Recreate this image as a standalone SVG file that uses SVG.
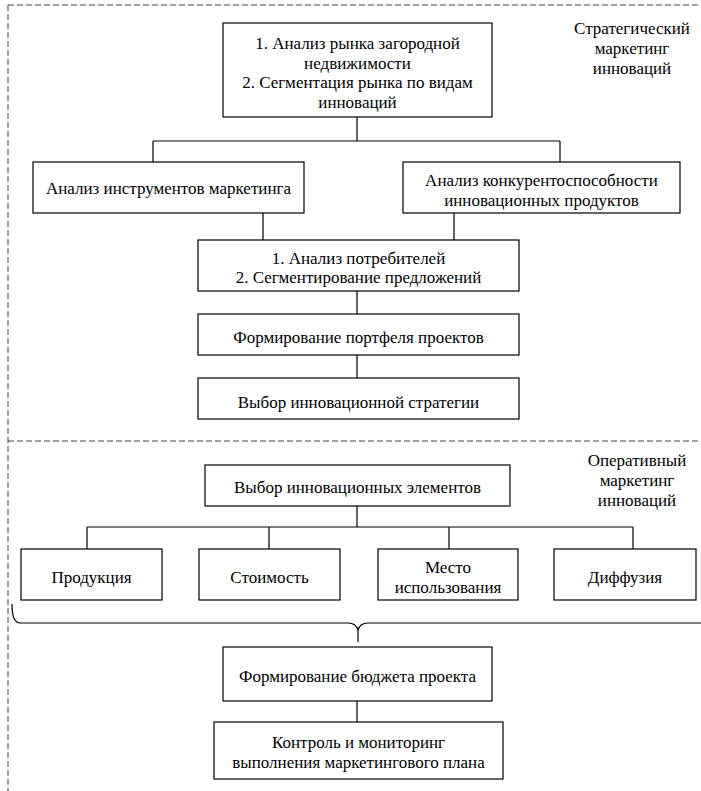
<svg xmlns="http://www.w3.org/2000/svg" width="701" height="791" viewBox="0 0 701 791">
<style>
.box{fill:#fff;stroke:#000;stroke-width:1.2}
.ln{fill:none;stroke:#000;stroke-width:1.2}
.dash{fill:none;stroke:#444;stroke-width:1;stroke-dasharray:6,3}
text{font-family:'Liberation Serif','Times New Roman',Times,serif;font-size:17px;fill:#000;text-anchor:middle}
</style>
<rect width="701" height="791" fill="#fff"/>
<g id="frame">
<path class="dash" d="M8,5 H701 M8,5 V791 M8,441 H701"/>
</g>
<g id="connectors">
<path class="ln" d="M357,117 V141 M153,141 H560 M153,141 V162 M560,141 V162"/>
<path class="ln" d="M263,213 V240 M454,213 V240"/>
<path class="ln" d="M357,291 V314 M357,355 V378"/>
<path class="ln" d="M357,506 V527 M87,527 H633 M87,527 V549 M269,527 V549 M449,527 V549 M633,527 V549"/>
<path class="ln" d="M12,604 Q12,623 20,623 H348 Q356,623 358,630 Q360,623 368,623 H701 M358,630 V642"/>
<path class="ln" d="M357,701 V722"/>
</g>
<g id="label-strategic" font-family="Liberation Serif, serif">
<text x="632" y="34">Стратегический</text>
<text x="632" y="54">маркетинг</text>
<text x="632" y="74">инноваций</text>
</g>
<g id="label-operative">
<text x="637" y="466">Оперативный</text>
<text x="637" y="486">маркетинг</text>
<text x="637" y="506">инноваций</text>
</g>
<g id="n1">
<rect class="box" x="223" y="23" width="269" height="94"/>
<text x="357.5" y="49">1. Анализ рынка загородной</text>
<text x="357.5" y="69">недвижимости</text>
<text x="357.5" y="88">2. Сегментация рынка по видам</text>
<text x="357.5" y="108">инноваций</text>
</g>
<g id="n2">
<rect class="box" x="33" y="162" width="271" height="51"/>
<text x="168.5" y="194">Анализ инструментов маркетинга</text>
</g>
<g id="n3">
<rect class="box" x="403" y="162" width="277" height="51"/>
<text x="541.5" y="186">Анализ конкурентоспособности</text>
<text x="541.5" y="206">инновационных продуктов</text>
</g>
<g id="n4">
<rect class="box" x="198" y="240" width="321" height="51"/>
<text x="358.5" y="264">1. Анализ потребителей</text>
<text x="358.5" y="283">2. Сегментирование предложений</text>
</g>
<g id="n5">
<rect class="box" x="198" y="314" width="321" height="41"/>
<text x="358.5" y="343">Формирование портфеля проектов</text>
</g>
<g id="n6">
<rect class="box" x="198" y="378" width="321" height="41"/>
<text x="358.5" y="408">Выбор инновационной стратегии</text>
</g>
<g id="n7">
<rect class="box" x="205" y="465" width="305" height="41"/>
<text x="357.5" y="493">Выбор инновационных элементов</text>
</g>
<g id="n8">
<rect class="box" x="21" y="549" width="141" height="51"/>
<text x="91.5" y="583">Продукция</text>
</g>
<g id="n9">
<rect class="box" x="199" y="549" width="141" height="51"/>
<text x="269.5" y="583">Стоимость</text>
</g>
<g id="n10">
<rect class="box" x="378" y="549" width="140" height="51"/>
<text x="448" y="573">Место</text>
<text x="448" y="593">использования</text>
</g>
<g id="n11">
<rect class="box" x="554" y="549" width="142" height="51"/>
<text x="625" y="583">Диффузия</text>
</g>
<g id="n12">
<rect class="box" x="223" y="647" width="269" height="54"/>
<text x="357.5" y="682">Формирование бюджета проекта</text>
</g>
<g id="n13">
<rect class="box" x="214" y="722" width="289" height="57"/>
<text x="358.5" y="748">Контроль и мониторинг</text>
<text x="358.5" y="768">выполнения маркетингового плана</text>
</g>
</svg>
